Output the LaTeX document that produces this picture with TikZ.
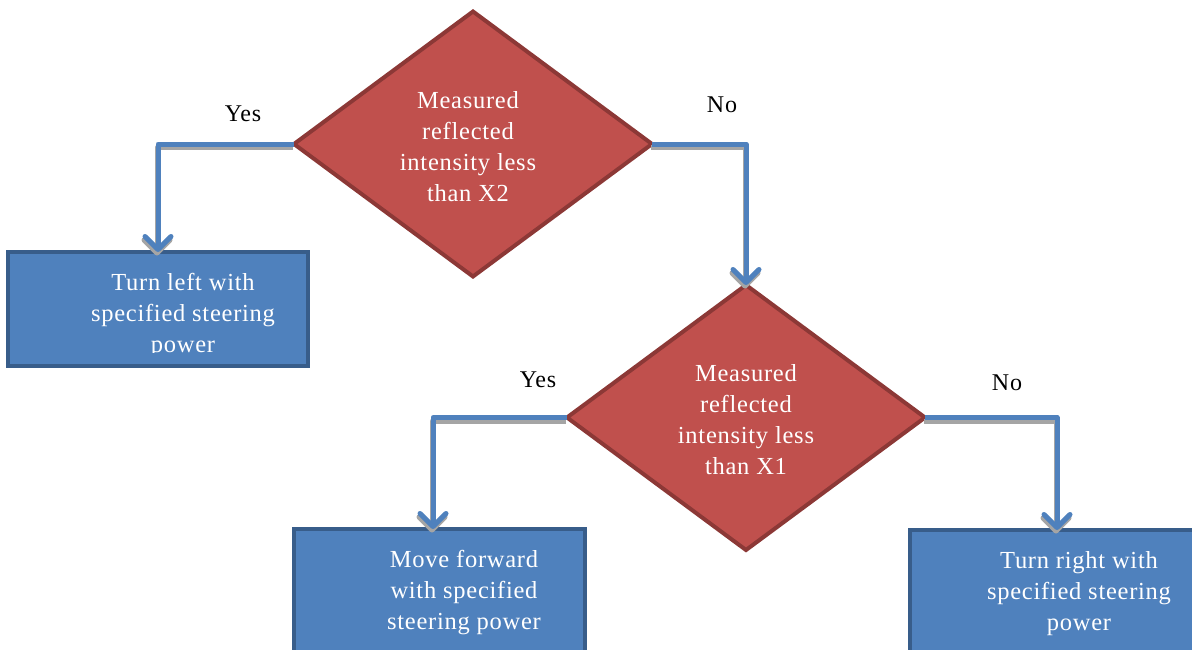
\documentclass[tikz,border=0pt]{standalone}
\usepackage{fontspec}
\setmainfont{Liberation Serif}[LetterSpace=3]
\usetikzlibrary{shapes.geometric,arrows.meta}
\definecolor{dfill}{HTML}{C0504D}
\definecolor{dline}{HTML}{8C3836}
\definecolor{bfill}{HTML}{4F81BD}
\definecolor{bline}{HTML}{385D8A}
\definecolor{shad}{HTML}{A5A5A5}
\tikzset{
  decision/.style={diamond, fill=dfill, draw=dline, line width=4pt, inner sep=0pt, outer sep=0pt,
    minimum width=358pt, minimum height=265pt, aspect=1.35},
  actionbox/.style={rectangle, fill=bfill, draw=bline, line width=4pt, inner sep=0pt, outer sep=0pt},
  intext/.style={text=white, align=center, font=\fontsize{24.5}{31}\selectfont, inner sep=0pt},
  lbl/.style={text=black, font=\fontsize{24}{28}\selectfont, inner sep=0pt},
  connbase/.style={line width=5pt, line join=round,
    -{Straight Barb[length=13pt,width=26pt,round]}},
  conn/.style={connbase, draw=bfill},
  connshadow/.style={connbase, draw=shad}
}
\begin{document}
\begin{tikzpicture}[x=1pt,y=-1pt]
\useasboundingbox (0,0) rectangle (1192,649);
\clip (0,0) rectangle (1192,649);
% decisions
\node[decision] (d1) at (473,144) {};
\node[decision] (d2) at (746,417.5) {};
% action boxes
\node[actionbox, minimum width=300pt, minimum height=114pt] (b1) at (158,309) {};
\node[actionbox, minimum width=291pt, minimum height=130pt] (b2) at (439.5,594) {};
\node[actionbox, minimum width=294pt, minimum height=130pt] (b3) at (1057,595) {};
% texts
\node[intext] (t1) at (468,147) {Measured\\reflected\\intensity less\\than X2};
\node[intext] (t2) at (746,420) {Measured\\reflected\\intensity less\\than X1};
\begin{scope}
\clip (12,256) rectangle (304,352);
\node[intext] (t3) at (183,315) {Turn left with\\specified steering\\power};
\end{scope}
\node[intext] (t4) at (464,593) {Move forward\\with specified\\steering power};
\node[intext] (t5) at (1079,594) {Turn right with\\specified steering\\power};
% labels
\node[lbl] (y1) at (243,114) {Yes};
\node[lbl] (n1) at (722,105) {No};
\node[lbl] (y2) at (538,380) {Yes};
\node[lbl] (n2) at (1007,383) {No};
% connector shadows
\begin{scope}[transform canvas={shift={(-1pt,-3.5pt)}}]
\draw[connshadow] (d1.west) -| (b1.north);
\draw[connshadow] (d1.east) -| (d2.north);
\draw[connshadow] (d2.west) -| ([xshift=-6.5pt]b2.north);
\draw[connshadow] (d2.east) -| (b3.north);
\end{scope}
% connectors
\draw[conn] (d1.west) -| (b1.north);
\draw[conn] (d1.east) -| (d2.north);
\draw[conn] (d2.west) -| ([xshift=-6.5pt]b2.north);
\draw[conn] (d2.east) -| (b3.north);
\end{tikzpicture}
\end{document}
